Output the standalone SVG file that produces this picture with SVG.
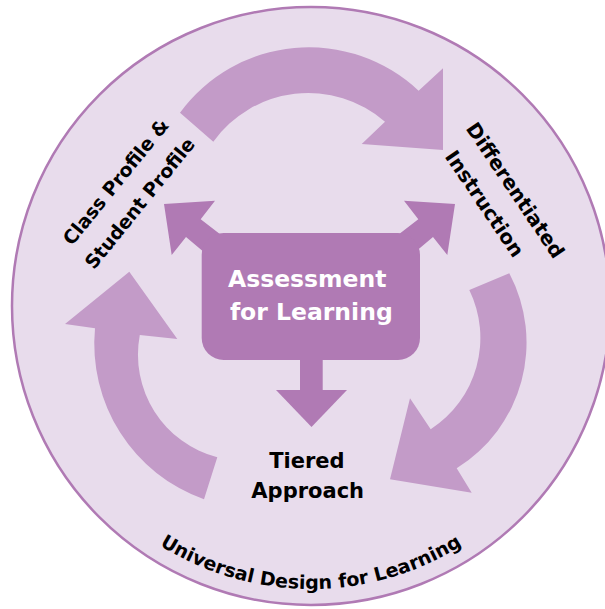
<svg xmlns="http://www.w3.org/2000/svg" width="605" height="609" viewBox="0 0 605 609">
  <style>
    .lbl { font-family: "DejaVu Sans", "Liberation Sans", sans-serif; font-weight: bold; fill: #000000; }
    .big { fill: #C39BC8; }
    .dark { fill: #B07AB4; }
  </style>
  <defs>
    <path id="udlArc" d="M 65.9 447.5 A 283 283 0 0 0 556.1 447.5"/>
  </defs>

  <g id="udl">
    <circle cx="311" cy="306" r="299" fill="#E8DCEC" stroke="#B07AB4" stroke-width="2.5"/>
    <text class="lbl" font-size="19" text-anchor="middle"><textPath href="#udlArc" startOffset="50%">Universal Design for Learning</textPath></text>
  </g>

  <g id="connectors">
    <path class="big" d="M 180 112.7 L 213.3 141.7 A 117 117 0 0 1 385 121.7 L 361.7 144 L 443 150 L 443 68.3 L 418.6 90.7 A 160 160 0 0 0 180 112.7 Z"/>
    <path class="big" d="M 509.3 273.3 L 469.3 290 A 109 109 0 0 1 430.7 429.3 L 410 398.3 L 390 479.3 L 471.7 492.7 L 456.7 468.3 A 148 148 0 0 0 509.3 273.3 Z"/>
    <path class="big" d="M 204 499.3 L 217.3 457.3 A 106 106 0 0 1 139.8 335 L 177.3 339 L 129.3 271.7 L 65 324 L 95 328.3 A 165 165 0 0 0 204 499.3 Z"/>
    <polygon class="dark" points="205,253 186,237 171.7,255 164,204 215,200.7 200.7,219.3 225,238"/>
    <polygon class="dark" points="414,253 433,237 447.3,255 455,204 404,200.7 418.3,219.3 394,238"/>
    <rect class="dark" x="300" y="350" width="22.7" height="41"/>
    <polygon class="dark" points="276,390 347,390 311.5,427"/>
  </g>

  <g id="assessment">
    <rect class="dark" x="201.7" y="233" width="218.3" height="127" rx="22"/>
    <text class="lbl" font-size="23.5" text-anchor="middle" fill="#FFFFFF" style="fill:#FFFFFF">
      <tspan x="311.3" y="287">Assessment</tspan>
      <tspan x="311.3" y="320">for Learning</tspan>
    </text>
  </g>

  <g id="class-profile">
    <text class="lbl" font-size="19" text-anchor="middle" transform="translate(121,186) rotate(-51)">Class Profile &amp;</text>
    <text class="lbl" font-size="19" text-anchor="middle" transform="translate(145,207.4) rotate(-51)">Student Profile</text>
  </g>

  <g id="differentiated">
    <text class="lbl" font-size="20" text-anchor="middle" transform="translate(509.6,194.2) rotate(56)">Differentiated</text>
    <text class="lbl" font-size="20" text-anchor="middle" transform="translate(478.9,207.7) rotate(56)">Instruction</text>
  </g>

  <g id="tiered">
    <text class="lbl" font-size="21" text-anchor="middle">
      <tspan x="310.5" y="467.6">Tiered</tspan>
      <tspan x="307.7" y="498">Approach</tspan>
    </text>
  </g>
</svg>
